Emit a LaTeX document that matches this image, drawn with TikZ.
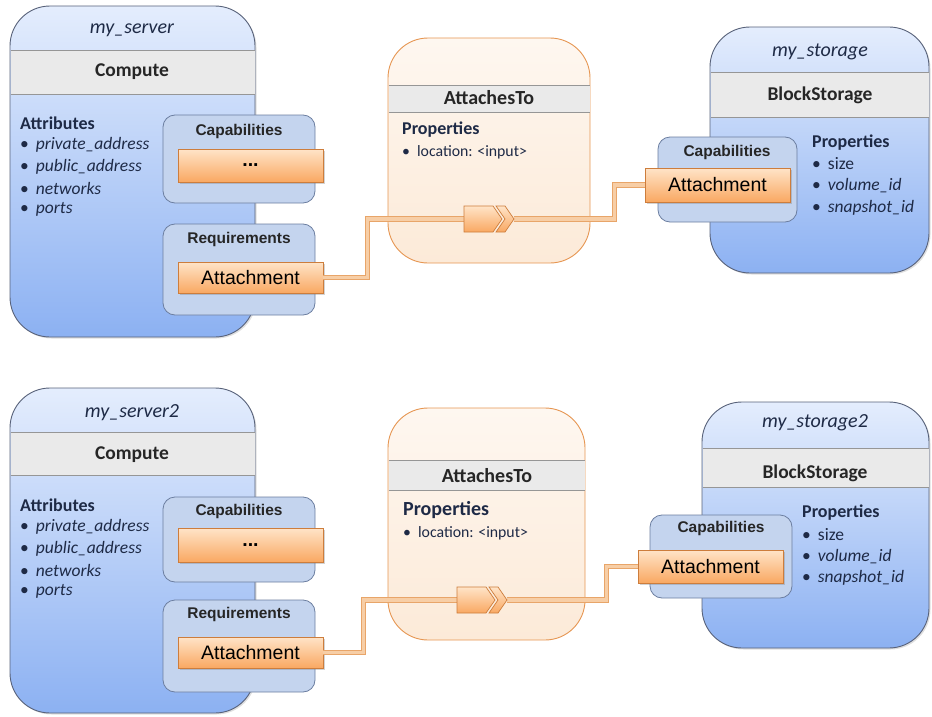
\documentclass[tikz,border=0pt]{standalone}
\usepackage{fontspec}
\setmainfont{Carlito}
\newfontfamily\arialfont{Liberation Sans}
\usetikzlibrary{shadows}

\definecolor{nodeedge}{RGB}{88,98,122}
\definecolor{nodetop}{RGB}{228,237,253}
\definecolor{nodebot}{RGB}{140,177,242}
\definecolor{bandfill}{RGB}{234,234,234}
\definecolor{bandedge}{RGB}{150,150,150}
\definecolor{capfill}{RGB}{196,212,238}
\definecolor{capedge}{RGB}{108,126,160}
\definecolor{porttop}{RGB}{255,228,200}
\definecolor{portbot}{RGB}{249,168,98}
\definecolor{portedge}{RGB}{205,125,60}
\definecolor{reltop}{RGB}{254,247,240}
\definecolor{relbot}{RGB}{252,234,216}
\definecolor{reledge}{RGB}{230,150,82}
\definecolor{linkfill}{RGB}{247,206,166}
\definecolor{linkedge}{RGB}{232,165,105}
\definecolor{txt}{RGB}{30,42,70}

\tikzset{
  tmpl/.style={draw=nodeedge, line width=0.9pt, rounded corners=40pt,
    top color=nodetop, bottom color=nodebot,
    drop shadow={opacity=0.25, shadow xshift=1.5pt, shadow yshift=-1.5pt}},
  reltmpl/.style={draw=reledge, line width=0.9pt, rounded corners=40pt,
    top color=reltop, bottom color=relbot},
  capbox/.style={draw=capedge, line width=0.8pt, rounded corners=12pt, fill=capfill},
  port/.style={draw=portedge, line width=0.8pt, top color=porttop, bottom color=portbot,
    inner sep=0pt, font=\arialfont\fontsize{19.5}{21}\selectfont,
    drop shadow={opacity=0.35, shadow xshift=1.5pt, shadow yshift=-1.5pt}},
  link/.style={draw=linkedge, double=linkfill, double distance=3.2pt, line width=1pt},
  chev/.style={draw=portedge, line width=0.7pt, top color=porttop, bottom color=portbot},
  title/.style={font=\fontsize{20}{22}\selectfont\itshape, text=txt},
  typename/.style={font=\fontsize{19.5}{22}\selectfont\bfseries, text=black!85},
  sect/.style={font=\fontsize{18}{20}\selectfont\bfseries, text=txt, anchor=west, inner sep=0pt},
  item/.style={font=\fontsize{17.5}{20}\selectfont, text=txt, anchor=west, inner sep=0pt},
  capname/.style={font=\arialfont\fontsize{15.5}{18}\selectfont\bfseries, text=black!85},
}

\begin{document}
\begin{tikzpicture}[x=1pt, y=-1pt]
\useasboundingbox (0,0) rectangle (932,717);

% ---- first row
\node[tmpl, minimum width=245, minimum height=331] (srv1) at (132.5,171.5) {};
\fill[bandfill] (10.5,50) rectangle (254.5,94);
\draw[bandedge] (10.5,50) -- (254.5,50) (10.5,94) -- (254.5,94);
\node[title] (srv1name) at (132,30) {my\_server};
\node[typename] (srv1type) at (132,72) {Compute};
\node[sect] (srv1attr) at (20,123) {Attributes};
\foreach \t [count=\i] in {private\_address, public\_address, networks, ports}
  \node[item] (srv1a\i) at (20,123+21.7*\i) {\textbullet\hspace{7pt}\textit{\t}};
\node[capbox, minimum width=152, minimum height=88] (cap1) at (239,159) {};
\node[capname] (cap1name) at (239,131) {Capabilities};
\node[port, minimum width=145, minimum height=33] (dots1) at (250.5,165.5) {\textbf{...}};
\node[capbox, minimum width=152, minimum height=91] (req1) at (239,269.5) {};
\node[capname] (req1name) at (239,239) {Requirements};
\node[port, minimum width=145, minimum height=31] (att1) at (250.5,277.5) {Attachment};

\node[reltmpl, minimum width=202, minimum height=225] (rel1) at (489,150.5) {};
\fill[bandfill] (388.5,85) rectangle (589.5,112);
\draw[bandedge] (388.5,85) -- (589.5,85) (388.5,112) -- (589.5,112);
\node[typename, font=\fontsize{20}{22}\selectfont\bfseries] (rel1type) at (489,98) {AttachesTo};
\node[sect] (rel1prop) at (402,130) {Properties};
\node[item, font=\fontsize{15.8}{20}\selectfont] (rel1p1) at (402,152) {\textbullet\hspace{7pt}location: <input>};

\node[tmpl, minimum width=219, minimum height=246] (sto1) at (819.5,150) {};
\fill[bandfill] (710.5,72) rectangle (928.5,117);
\draw[bandedge] (710.5,72) -- (928.5,72) (710.5,117) -- (928.5,117);
\node[title] (sto1name) at (820,52) {my\_storage};
\node[typename] (sto1type) at (820,95) {BlockStorage};
\node[sect] (sto1prop) at (812,143) {Properties};
\node[item] (sto1p1) at (812,164) {\textbullet\hspace{7pt}size};
\node[item] (sto1p2) at (812,186) {\textbullet\hspace{7pt}\textit{volume\_id}};
\node[item] (sto1p3) at (812,208) {\textbullet\hspace{7pt}\textit{snapshot\_id}};
\node[capbox, minimum width=139, minimum height=85] (scap1) at (727.5,179.5) {};
\node[capname] (scap1name) at (727,152) {Capabilities};
\node[port, minimum width=145, minimum height=34] (satt1) at (717.5,185) {Attachment};

\coordinate (chv1in) at (464,219);
\coordinate (chv1out) at (514,219);
\draw[link] (att1.east) -- ++(44,0) |- (chv1in);
\draw[link] (chv1out) -| ([xshift=-30pt]satt1.west) -- (satt1.west);
\draw[chev] (chv1in) ++(0,-13) -- ++(29,0) -- ++(9,13) -- ++(-9,13) -- ++(-29,0) -- cycle;
\draw[chev] (chv1out) ++(-18,-13) -- ++(9,0) -- ++(9,13) -- ++(-9,13) -- ++(-9,0) -- ++(9,-13) -- cycle;

% ---- second row
\node[tmpl, minimum width=245, minimum height=325] (srv2) at (132.5,550.5) {};
\fill[bandfill] (10.5,432) rectangle (254.5,475);
\draw[bandedge] (10.5,432) -- (254.5,432) (10.5,475) -- (254.5,475);
\node[title] (srv2name) at (132,413) {my\_server2};
\node[typename] (srv2type) at (132,455) {Compute};
\node[sect] (srv2attr) at (20,505) {Attributes};
\foreach \t [count=\i] in {private\_address, public\_address, networks, ports}
  \node[item] (srv2a\i) at (20,505+21.7*\i) {\textbullet\hspace{7pt}\textit{\t}};
\node[capbox, minimum width=152, minimum height=85] (cap2) at (239,539.5) {};
\node[capname] (cap2name) at (239,511) {Capabilities};
\node[port, minimum width=145, minimum height=34] (dots2) at (250.5,545) {\textbf{...}};
\node[capbox, minimum width=152, minimum height=92] (req2) at (239,646) {};
\node[capname] (req2name) at (239,614) {Requirements};
\node[port, minimum width=145, minimum height=31] (att2) at (250.5,652.5) {Attachment};

\node[reltmpl, minimum width=197, minimum height=232] (rel2) at (486.5,524) {};
\fill[bandfill] (388.5,460) rectangle (584.5,490);
\draw[bandedge] (388.5,460) -- (584.5,460) (388.5,490) -- (584.5,490);
\node[typename, font=\fontsize{20}{22}\selectfont\bfseries] (rel2type) at (487,476) {AttachesTo};
\node[sect, font=\fontsize{20}{22}\selectfont\bfseries] (rel2prop) at (403,510) {Properties};
\node[item, font=\fontsize{15.8}{20}\selectfont] (rel2p1) at (403,533) {\textbullet\hspace{7pt}location: <input>};

\node[tmpl, minimum width=227, minimum height=246] (sto2) at (815.5,525) {};
\fill[bandfill] (702.5,448) rectangle (928.5,487);
\draw[bandedge] (702.5,448) -- (928.5,448) (702.5,487) -- (928.5,487);
\node[title] (sto2name) at (815,423) {my\_storage2};
\node[typename] (sto2type) at (815,473) {BlockStorage};
\node[sect] (sto2prop) at (802,513) {Properties};
\node[item] (sto2p1) at (802,535) {\textbullet\hspace{7pt}size};
\node[item] (sto2p2) at (802,557) {\textbullet\hspace{7pt}\textit{volume\_id}};
\node[item] (sto2p3) at (802,578) {\textbullet\hspace{7pt}\textit{snapshot\_id}};
\node[capbox, minimum width=142, minimum height=83] (scap2) at (721,556.5) {};
\node[capname] (scap2name) at (721,528) {Capabilities};
\node[port, minimum width=145, minimum height=33] (satt2) at (710.5,566.5) {Attachment};

\coordinate (chv2in) at (457,600);
\coordinate (chv2out) at (507,600);
\draw[link] (att2.east) -- ++(40,0) |- (chv2in);
\draw[link] (chv2out) -| ([xshift=-31pt]satt2.west) -- (satt2.west);
\draw[chev] (chv2in) ++(0,-13) -- ++(29,0) -- ++(9,13) -- ++(-9,13) -- ++(-29,0) -- cycle;
\draw[chev] (chv2out) ++(-18,-13) -- ++(9,0) -- ++(9,13) -- ++(-9,13) -- ++(-9,0) -- ++(9,-13) -- cycle;
\end{tikzpicture}
\end{document}
